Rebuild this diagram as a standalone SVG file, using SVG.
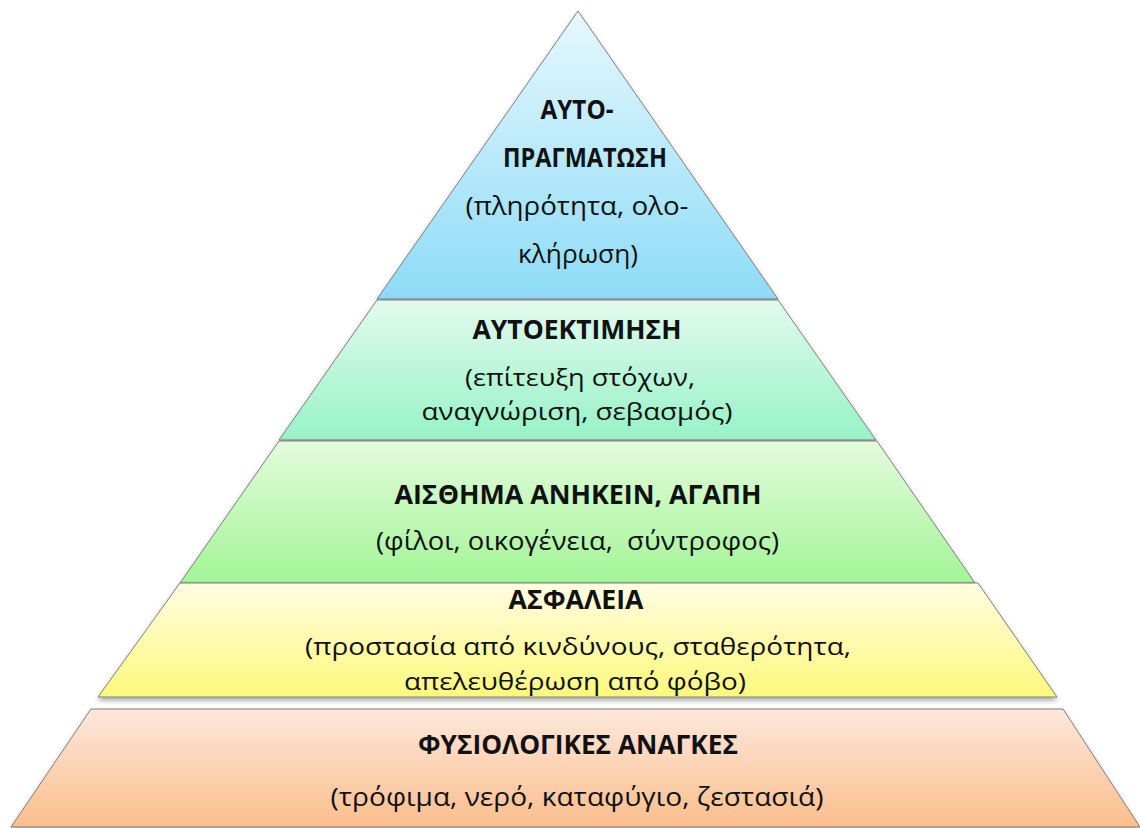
<svg xmlns="http://www.w3.org/2000/svg" width="1140" height="828" viewBox="0 0 1140 828">
  <defs>
    <linearGradient id="gBlue" x1="0" y1="0" x2="0" y2="1">
      <stop offset="0" stop-color="#e6f8fd"/>
      <stop offset="1" stop-color="#8edbf7"/>
    </linearGradient>
    <linearGradient id="gMint" x1="0" y1="0" x2="0" y2="1">
      <stop offset="0" stop-color="#e2fbee"/>
      <stop offset="1" stop-color="#97f2c7"/>
    </linearGradient>
    <linearGradient id="gGreen" x1="0" y1="0" x2="0" y2="1">
      <stop offset="0" stop-color="#e4fbdc"/>
      <stop offset="1" stop-color="#a3f597"/>
    </linearGradient>
    <linearGradient id="gYellow" x1="0" y1="0" x2="0" y2="1">
      <stop offset="0" stop-color="#fffde2"/>
      <stop offset="1" stop-color="#fdf97c"/>
    </linearGradient>
    <linearGradient id="gOrange" x1="0" y1="0" x2="0" y2="1">
      <stop offset="0" stop-color="#fde8dc"/>
      <stop offset="1" stop-color="#fbbe8c"/>
    </linearGradient>
    <filter id="shadow" x="-5%" y="-5%" width="110%" height="120%">
      <feDropShadow dx="0" dy="3" stdDeviation="2.5" flood-color="#000" flood-opacity="0.35"/>
    </filter>
  </defs>
  <style>
    .tier { stroke: #7f7f7f; stroke-width: 1; filter: url(#shadow); }
    text { font-family: "Open Sans", "Noto Sans", "DejaVu Sans", sans-serif; font-size: 26px; fill: #111; text-anchor: middle; }
    .h { font-weight: bold; font-size: 26px; }
    .t { font-size: 24px; }
  </style>
  <rect width="1140" height="828" fill="#ffffff"/>

  <g id="tier-self-actualization">
    <polygon class="tier" fill="url(#gBlue)" points="578,11 778,299 377,299"/>
    <text class="h" x="577" y="119" textLength="73" lengthAdjust="spacingAndGlyphs">ΑΥΤΟ-</text>
    <text class="h" x="585" y="167" textLength="164" lengthAdjust="spacingAndGlyphs">ΠΡΑΓΜΑΤΩΣΗ</text>
    <text x="577" y="215" textLength="223" lengthAdjust="spacingAndGlyphs">(πληρότητα, ολο-</text>
    <text x="578" y="263" textLength="120" lengthAdjust="spacingAndGlyphs">κλήρωση)</text>
  </g>

  <g id="tier-esteem">
    <polygon class="tier" fill="url(#gMint)" points="377,300 778,300 876,440 279,440"/>
    <text class="h" x="577" y="339" textLength="209" lengthAdjust="spacingAndGlyphs">ΑΥΤΟΕΚΤΙΜΗΣΗ</text>
    <text class="t" x="580" y="386" textLength="230" lengthAdjust="spacingAndGlyphs">(επίτευξη στόχων,</text>
    <text class="t" x="577" y="420" textLength="311" lengthAdjust="spacingAndGlyphs">αναγνώριση, σεβασμός)</text>
  </g>

  <g id="tier-belonging">
    <polygon class="tier" fill="url(#gGreen)" points="279,441 877,441 975,583 180,583"/>
    <text class="h" x="578" y="504" textLength="367" lengthAdjust="spacingAndGlyphs">ΑΙΣΘΗΜΑ ΑΝΗΚΕΙΝ, ΑΓΑΠΗ</text>
    <text x="577.5" y="550" textLength="403" lengthAdjust="spacingAndGlyphs" xml:space="preserve">(φίλοι, οικογένεια,  σύντροφος)</text>
  </g>

  <g id="tier-safety">
    <polygon class="tier" fill="url(#gYellow)" points="180,583 978,583 1057,697 98,697"/>
    <text class="h" x="576" y="609" textLength="135" lengthAdjust="spacingAndGlyphs">ΑΣΦΑΛΕΙΑ</text>
    <text class="t" x="578" y="655" textLength="546" lengthAdjust="spacingAndGlyphs">(προστασία από κινδύνους, σταθερότητα,</text>
    <text class="t" x="575" y="690" textLength="342" lengthAdjust="spacingAndGlyphs">απελευθέρωση από φόβο)</text>
  </g>

  <g id="tier-physiological">
    <polygon class="tier" fill="url(#gOrange)" points="91,709 1063,709 1140,827 11,827"/>
    <text class="h" x="578" y="754" textLength="320" lengthAdjust="spacingAndGlyphs">ΦΥΣΙΟΛΟΓΙΚΕΣ ΑΝΑΓΚΕΣ</text>
    <text x="577" y="806" textLength="493" lengthAdjust="spacingAndGlyphs">(τρόφιμα, νερό, καταφύγιο, ζεστασιά)</text>
  </g>

  <g id="connectors"/>
</svg>
